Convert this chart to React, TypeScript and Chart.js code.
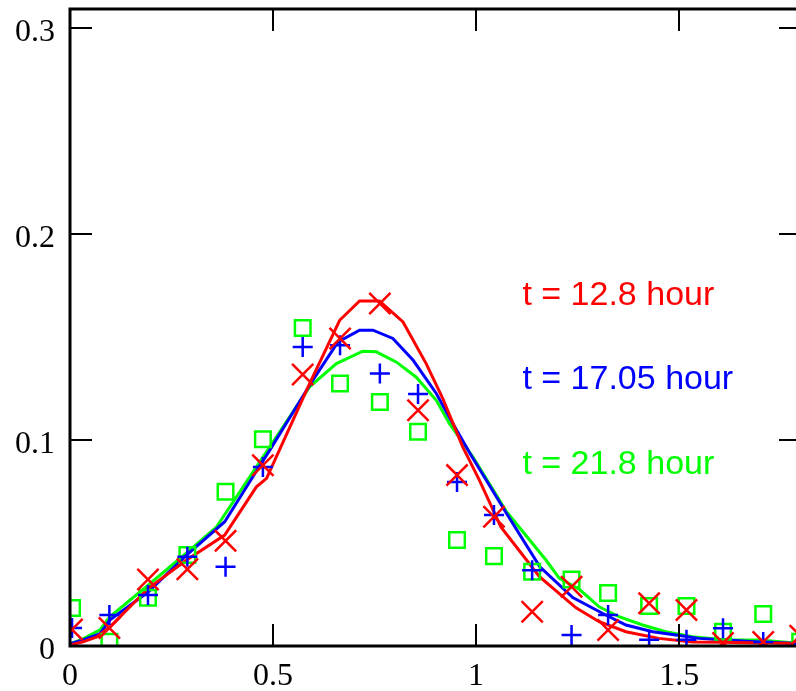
import React, { useEffect, useRef } from 'react';
import { Chart, registerables } from 'chart.js';

Chart.register(...registerables);

// ---- data ----
const markerX = [0.005, 0.097, 0.192, 0.289, 0.383, 0.475, 0.573, 0.665, 0.763, 0.857, 0.953, 1.044, 1.138, 1.235, 1.325, 1.426, 1.518, 1.608, 1.707, 1.798];
const redMarkers = [0.008, 0.0087, 0.0323, 0.0372, 0.051, 0.0877, 0.1317, 0.1492, 0.1661, 0.1144, 0.0829, 0.0627, 0.0166, 0.0287, 0.0078, 0.0207, 0.0175, 0.0015, 0.002, 0.005];
const blueMarkers = [0.0087, 0.015, 0.0247, 0.0433, 0.0384, 0.0868, 0.1451, 0.1459, 0.1322, 0.1222, 0.0796, 0.0635, 0.0368, 0.0053, 0.015, 0.003, 0.003, 0.0086, 0.002, 0.001];
const greenMarkers = [0.0184, 0.002, 0.0234, 0.0441, 0.0748, 0.1003, 0.1543, 0.1273, 0.1184, 0.1039, 0.0514, 0.0436, 0.036, 0.0323, 0.0257, 0.0194, 0.0194, 0.0069, 0.0155, 0.002];

const redCurveX = [0, 0.032, 0.066, 0.098, 0.193, 0.287, 0.381, 0.459, 0.484, 0.59, 0.664, 0.713, 0.762, 0.82, 0.877, 0.918, 0.967, 1.008, 1.061, 1.156, 1.246, 1.303, 1.369, 1.45, 1.532, 1.6, 1.7, 1.8];
const redCurveY = [0.0005, 0.002, 0.0044, 0.0092, 0.028, 0.0417, 0.0538, 0.0772, 0.0813, 0.1273, 0.158, 0.1674, 0.1674, 0.1572, 0.137, 0.12, 0.0966, 0.0805, 0.0578, 0.0336, 0.0185, 0.0118, 0.0069, 0.0037, 0.002, 0.0018, 0.0015, 0.0012];

const blueCurveX = [0, 0.032, 0.074, 0.098, 0.193, 0.287, 0.381, 0.463, 0.492, 0.598, 0.66, 0.713, 0.746, 0.795, 0.845, 0.902, 0.934, 0.985, 1.075, 1.157, 1.238, 1.311, 1.369, 1.435, 1.492, 1.549, 1.615, 1.697, 1.8];
const blueCurveY = [0.001, 0.003, 0.006, 0.0126, 0.0263, 0.0441, 0.0603, 0.0861, 0.095, 0.129, 0.1475, 0.1532, 0.1532, 0.1492, 0.1386, 0.1225, 0.111, 0.0934, 0.0643, 0.0384, 0.0235, 0.0159, 0.0102, 0.0069, 0.0053, 0.0037, 0.0029, 0.002, 0.0012];

const greenCurveX = [0, 0.032, 0.074, 0.098, 0.193, 0.287, 0.361, 0.459, 0.492, 0.59, 0.656, 0.721, 0.754, 0.803, 0.852, 0.902, 0.934, 0.992, 1.075, 1.172, 1.205, 1.254, 1.303, 1.352, 1.41, 1.467, 1.533, 1.615, 1.697, 1.8];
const greenCurveY = [0.001, 0.0035, 0.0078, 0.0142, 0.0296, 0.0452, 0.0578, 0.0869, 0.0966, 0.1257, 0.137, 0.143, 0.1427, 0.1378, 0.1305, 0.1192, 0.108, 0.0918, 0.0651, 0.0417, 0.0328, 0.0275, 0.019, 0.0142, 0.0102, 0.0069, 0.0045, 0.0029, 0.0029, 0.0012];

const xTickValues = [0, 0.5, 1, 1.5];
const xTickLabels = ['0', '0.5', '1', '1.5'];
const yTickValues = [0, 0.1, 0.2, 0.3];
const yTickLabels = ['0', '0.1', '0.2', '0.3'];

const seriesNames = ['t = 12.8 hour', 't = 17.05 hour', 't = 21.8 hour'];
const seriesColors = ['#ff0000', '#0000ff', '#00ff00'];
const seriesLabelX = [1.114, 1.114, 1.114];
const seriesLabelY = [0.1653, 0.1246, 0.0834];

const X_MIN = 0;
const X_MAX = 1.8;
const Y_MIN = 0;
const Y_MAX = 0.309;

const toPoints = (xs: number[], ys: number[]) => xs.map((x, i) => ({ x, y: ys[i] }));

const framePlugin = {
  id: 'frame',
  afterDatasetsDraw(chart: any) {
    const { ctx, chartArea } = chart;
    const { left, right, top, bottom } = chartArea;
    const xs = chart.scales.x;
    const ys = chart.scales.y;
    ctx.save();
    ctx.strokeStyle = '#000';
    ctx.lineCap = 'butt';
    ctx.lineWidth = 2;
    const tl = 22;
    xTickValues.forEach((v) => {
      const px = Math.round(xs.getPixelForValue(v));
      ctx.beginPath();
      ctx.moveTo(px, bottom);
      ctx.lineTo(px, bottom - tl);
      ctx.moveTo(px, top);
      ctx.lineTo(px, top + tl);
      ctx.stroke();
    });
    yTickValues.forEach((v) => {
      const py = Math.round(ys.getPixelForValue(v));
      ctx.beginPath();
      ctx.moveTo(left, py);
      ctx.lineTo(left + tl, py);
      ctx.moveTo(right, py);
      ctx.lineTo(right - tl, py);
      ctx.stroke();
    });
    ctx.lineWidth = 3;
    ctx.strokeRect(left, top, right - left, bottom - top);
    ctx.font = '34px "Liberation Sans", Arial, sans-serif';
    ctx.textAlign = 'left';
    ctx.textBaseline = 'alphabetic';
    seriesNames.forEach((name, i) => {
      ctx.fillStyle = seriesColors[i];
      ctx.fillText(name, xs.getPixelForValue(seriesLabelX[i]), ys.getPixelForValue(seriesLabelY[i]));
    });
    ctx.restore();
  },
};

export default function App() {
  const canvasRef = useRef<HTMLCanvasElement | null>(null);

  useEffect(() => {
    document.body.style.margin = '0';
    const canvas = canvasRef.current!;
    const markerBase = {
      type: 'scatter' as const,
      showLine: false,
      pointBorderWidth: 2.5,
      pointBackgroundColor: 'rgba(0,0,0,0)',
      pointHoverRadius: 0,
    };
    const lineBase = {
      type: 'line' as const,
      showLine: true,
      pointRadius: 0,
      borderWidth: 3,
      tension: 0,
      fill: false,
    };
    const chart = new Chart(canvas, {
      type: 'scatter',
      data: {
        datasets: [
          { ...markerBase, label: 'red markers', data: toPoints(markerX, redMarkers), pointStyle: 'crossRot', pointRadius: 15, borderColor: seriesColors[0], pointBorderColor: seriesColors[0] },
          { ...markerBase, label: 'blue markers', data: toPoints(markerX, blueMarkers), pointStyle: 'cross', pointRadius: 10, borderColor: seriesColors[1], pointBorderColor: seriesColors[1] },
          { ...markerBase, label: 'green markers', data: toPoints(markerX, greenMarkers), pointStyle: 'rect', pointRadius: 11, borderColor: seriesColors[2], pointBorderColor: seriesColors[2] },
          { ...lineBase, label: seriesNames[0], data: toPoints(redCurveX, redCurveY), borderColor: seriesColors[0] },
          { ...lineBase, label: seriesNames[1], data: toPoints(blueCurveX, blueCurveY), borderColor: seriesColors[1] },
          { ...lineBase, label: seriesNames[2], data: toPoints(greenCurveX, greenCurveY), borderColor: seriesColors[2] },
        ] as any,
      },
      options: {
        animation: false,
        responsive: false,
        maintainAspectRatio: false,
        events: [],
        layout: { autoPadding: false, padding: { top: 9, right: 29, left: 0, bottom: 0 } },
        plugins: {
          legend: { display: false },
          tooltip: { enabled: false },
          title: { display: false },
        },
        scales: {
          x: {
            type: 'linear',
            min: X_MIN,
            max: X_MAX,
            grid: { display: false, drawTicks: false },
            border: { display: false },
            ticks: {
              includeBounds: false,
              padding: 11,
              color: '#000',
              font: { family: '"Liberation Serif", "Times New Roman", serif', size: 32 },
              callback: (v: any) => {
                const i = xTickValues.findIndex((t) => Math.abs(t - Number(v)) < 1e-9);
                return i >= 0 ? xTickLabels[i] : '';
              },
            },
            afterBuildTicks: (scale: any) => {
              scale.ticks = xTickValues.map((value) => ({ value }));
            },
            afterFit: (scale: any) => {
              scale.height = 45;
              scale.paddingLeft = 0;
              scale.paddingRight = 0;
            },
          },
          y: {
            type: 'linear',
            min: Y_MIN,
            max: Y_MAX,
            grid: { display: false, drawTicks: false },
            border: { display: false },
            ticks: {
              includeBounds: false,
              padding: 15,
              labelOffset: 5,
              color: '#000',
              font: { family: '"Liberation Serif", "Times New Roman", serif', size: 32 },
              callback: (v: any) => {
                const i = yTickValues.findIndex((t) => Math.abs(t - Number(v)) < 1e-9);
                return i >= 0 ? yTickLabels[i] : '';
              },
            },
            afterBuildTicks: (scale: any) => {
              scale.ticks = yTickValues.map((value) => ({ value }));
            },
            afterFit: (scale: any) => {
              scale.width = 70;
              scale.paddingTop = 0;
              scale.paddingBottom = 0;
            },
          },
        },
      } as any,
      plugins: [framePlugin],
    });
    return () => chart.destroy();
  }, []);

  return (
    <div style={{ position: 'fixed', left: 0, top: 0, width: 796, height: 691, overflow: 'hidden', background: '#fff' }}>
      <canvas ref={canvasRef} width={830} height={691} style={{ display: 'block', width: 830, height: 691 }} />
    </div>
  );
}
